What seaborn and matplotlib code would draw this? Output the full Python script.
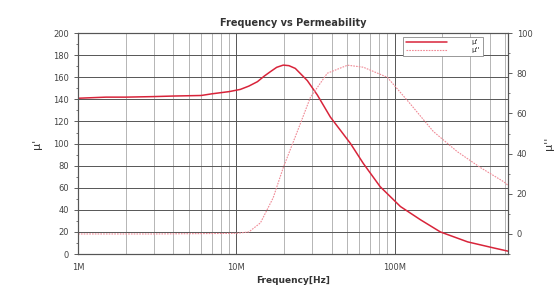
import numpy as np
import pandas as pd
import matplotlib
matplotlib.use("Agg")
import matplotlib.pyplot as plt
import matplotlib.ticker as mticker
import seaborn as sns

# mu' (real part) - left axis
freq_real = [1.0e6, 1.5e6, 2e6, 3e6, 4e6, 6e6, 7e6, 9e6, 10.6e6, 12e6, 13.6e6, 15e6, 16.4e6,
             18e6, 19.8e6, 21.5e6, 23.6e6, 28.1e6, 32.5e6, 39.3e6, 52.7e6, 63.5e6, 81.1e6,
             109e6, 146e6, 195e6, 290e6, 424e6, 526e6]
mu_real = [141, 142, 142, 142.5, 143, 143.5, 145, 147, 149, 152, 156, 161, 165,
           169, 171, 170.5, 168, 157, 144, 124, 100, 82, 61,
           43, 31, 20, 11, 5.5, 2.5]

# mu'' (imaginary part) - right axis
freq_imag = [1.0e6, 3e6, 10e6, 12e6, 14.2e6, 17.1e6, 19.8e6, 24.3e6, 29.4e6, 37.6e6, 50.5e6,
             63.5e6, 90e6, 125e6, 176e6, 249e6, 350e6, 490e6, 526e6]
mu_imag = [0, 0, 0.3, 1, 5.5, 18, 33, 51, 68, 80, 84,
           83, 78, 65, 51, 41, 33, 26, 24]

sns.set_style("white")
plt.rcParams['font.family'] = ['DejaVu Sans']

fig = plt.figure(figsize=(5.58, 2.90), dpi=100)
ax = fig.add_axes([0.140, 0.124, 0.770, 0.762])
ax2 = ax.twinx()

df1 = pd.DataFrame({"f": freq_real, "v": mu_real})
df2 = pd.DataFrame({"f": freq_imag, "v": mu_imag})

red = "#d8243a"
pink = "#f08a96"
sns.lineplot(data=df1, x="f", y="v", ax=ax, color=red, lw=1.1, label="\u03bc'", legend=False)
sns.lineplot(data=df2, x="f", y="v", ax=ax2, color=pink, lw=0.8, ls=(0, (1.5, 1)), label="\u03bc''", legend=False)

ax.set_xscale("log")
ax.set_xlim(1e6, 5.2e8)
ax.set_ylim(0, 200)
ax2.set_ylim(-10, 100)

ax.xaxis.set_major_locator(mticker.FixedLocator([1e6, 1e7, 1e8]))
ax.xaxis.set_major_formatter(mticker.FixedFormatter(["1M", "10M", "100M"]))
ax.xaxis.set_minor_locator(mticker.LogLocator(base=10, subs=np.arange(2, 10)))
ax.xaxis.set_minor_formatter(mticker.NullFormatter())
ax.yaxis.set_major_locator(mticker.MultipleLocator(20))
ax.yaxis.set_minor_locator(mticker.MultipleLocator(10))
ax2.yaxis.set_major_locator(mticker.MultipleLocator(20))
ax2.yaxis.set_minor_locator(mticker.MultipleLocator(10))
ax2.set_yticks([0, 20, 40, 60, 80, 100])

ax.grid(True, which="major", color="#555555", lw=0.7)
ax.grid(True, which="minor", axis="x", color="#999999", lw=0.5)
ax.set_axisbelow(True)

tc = "#444444"
for a in (ax, ax2):
    a.tick_params(axis="both", which="major", labelsize=6, colors=tc, length=3, width=0.6)
    a.tick_params(axis="both", which="minor", length=1.5, width=0.5, colors=tc)
    for s in a.spines.values():
        s.set_color("#555555")
        s.set_linewidth(0.8)

ax.set_title("Frequency vs Permeability", fontsize=7, fontweight="bold", color="#333333", pad=5)
ax.set_xlabel("Frequency[Hz]", fontsize=6.5, fontweight="bold", color="#333333", labelpad=3)
ax.set_ylabel("\u03bc'", fontsize=8, color="#333333", labelpad=8)
ax2.set_ylabel("\u03bc''", fontsize=8, color="#333333", labelpad=8)

h1, l1 = ax.get_legend_handles_labels()
h2, l2 = ax2.get_legend_handles_labels()
leg = ax2.legend(h1 + h2, l1 + l2, loc="upper right", bbox_to_anchor=(0.95, 1.0),
                 fontsize=5, handlelength=6, frameon=True, fancybox=False,
                 borderpad=0.4, labelspacing=0.3, handletextpad=3.5, framealpha=1)
leg.get_frame().set_edgecolor("#888888")
leg.get_frame().set_linewidth(0.6)

fig.savefig("out.png", dpi=100)
